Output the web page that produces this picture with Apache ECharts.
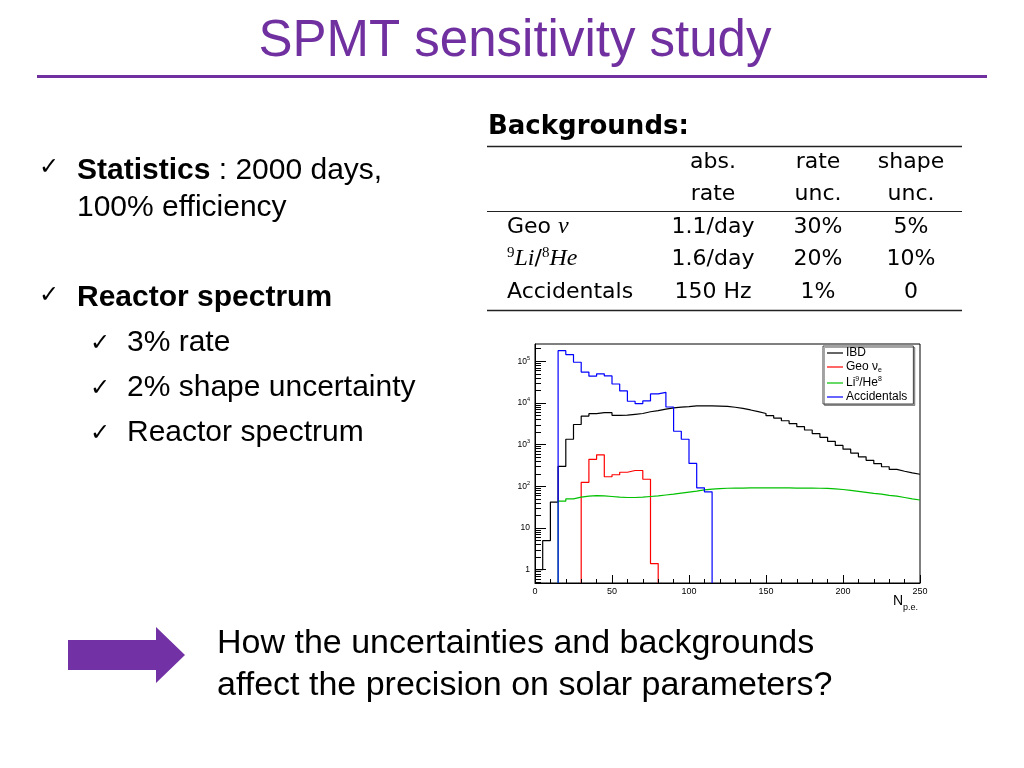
<!DOCTYPE html>
<html>
<head>
<meta charset="utf-8">
<script src="https://cdn.jsdelivr.net/npm/echarts@6/dist/echarts.min.js"></script>
<style>
html,body{margin:0;padding:0;background:#fff;}
#chart{width:1024px;height:768px;}
</style>
</head>
<body>
<div id="chart"></div>
<script>
// ---------- data ----------
const BIN_EDGES = [0,5,10,15,20,25,30,35,40,45,50,55,60,65,70,75,80,85,90,95,
  100,105,110,115,120,125,130,135,140,145,150,155,160,165,170,175,180,185,190,195,
  200,205,210,215,220,225,230,235,240,245];
const X_MAX = 250;
const IBD = [1,5,42,300,1350,3050,4850,5550,5900,5850,
  5050,5100,5350,5600,6150,6550,7150,7650,7950,8200,
  8500,8550,8550,8450,8300,7900,7400,6800,6200,5600,
  4950,4350,3750,3200,2700,2250,1850,1500,1200,960,
  780,630,510,420,350,295,255,230,210,195];
const GEO = [0,0,0,0,0,0,125,445,570,170,
  190,218,240,240,148,1.4,0,0,0,0,
  0,0,0,0,0,0,0,0,0,0,
  0,0,0,0,0,0,0,0,0,0,
  0,0,0,0,0,0,0,0,0,0];
const LIHE = [0,0,0,44,50,55,58,60,59,57,
  55,54,54,55,57,59,62,65,69,73,
  77,82,86,88,90,91,91,92,92,92,
  92,92,92,91,91,91,90,89,87,84,
  80,76,72,68,65,61,58,54,50,47];
const ACC = [0,0,0,180000,145000,95000,55000,44000,50000,44500,
  28500,19500,11000,9600,11200,16500,18000,8000,2100,1350,
  355,92,74,0,0,0,0,0,0,0,
  0,0,0,0,0,0,0,0,0,0,
  0,0,0,0,0,0,0,0,0,0];
const SERIES_NAMES = ['IBD','Geo','LiHe','Accidentals'];
const LEGEND_LABELS = {
  IBD: '{n|IBD}',
  Geo: '{n|Geo \u03bd}{sub|e}',
  LiHe: '{n|Li}{sup|9}{n|/He}{sup|8}',
  Accidentals: '{n|Accidentals}'
};
const X_TICK_INTERVAL = 50;
const Y_MIN = 0.48, Y_MAX = 2.6e5;
const Y_MAJOR = [1,10,100,1000,10000,100000];
const Y_MINOR = [];
for (let e = -1; e <= 5; e++) for (let k = 2; k <= 9; k++) {
  const v = k * Math.pow(10, e);
  if (v >= Y_MIN && v <= Y_MAX) Y_MINOR.push(v);
}
// table text
const TABLE_HEAD = [['abs.','rate'],['rate','unc.'],['shape','unc.']];
const TABLE_ROWS = [
  ['{s|Geo }{m|\u03bd}', '1.1/day', '30%', '5%'],
  ['{sup|9}{m|Li}{s|/}{sup|8}{m|He}', '1.6/day', '20%', '10%'],
  ['{s|Accidentals}', '150 Hz', '1%', '0']
];

// ---------- build ----------
// empty bins sit below the log-axis floor, so they are clipped like in the original
function toSteps(vals){
  const floor = Y_MIN / 2;
  const pts = vals.map((v,i)=>[BIN_EDGES[i], v > 0 ? v : floor]);
  const last = vals[vals.length-1];
  pts.push([X_MAX, last > 0 ? last : floor]);
  return pts;
}
const SANS = '"Liberation Sans", Arial, Helvetica, sans-serif';
const TEX = '"DejaVu Sans", sans-serif';
const PURPLE = '#7030A0';

function txt(text, x, y, font, fill, align, rich){
  const st = {text:text, x:x, y:y, font:font, fill:fill||'#000',
    align:align||'left', textAlign:align||'left', verticalAlign:'middle', textVerticalAlign:'middle'};
  if (rich) st.rich = rich;
  return {type:'text', z:100, style:st};
}

const graphics = [];
// title
graphics.push(txt('SPMT sensitivity study', 515, 42, '51px ' + SANS, PURPLE, 'center'));
graphics.push({type:'line', z:100, shape:{x1:37,y1:76.5,x2:987,y2:76.5}, style:{stroke:PURPLE, lineWidth:3}});
// bullets
const CHECK = '24px "DejaVu Sans", sans-serif';
graphics.push(txt('\u2713', 39, 168, CHECK, '#000'));
graphics.push(txt('{b|Statistics}{r| : 2000 days,}', 77, 171, '30px ' + SANS, '#000', 'left',
  {b:{fontWeight:'bold', fontSize:30, fontFamily:SANS, fill:'#000'}, r:{fontSize:30, fontFamily:SANS, fill:'#000'}}));
graphics.push(txt('100% efficiency', 77, 208, '30px ' + SANS));
graphics.push(txt('\u2713', 39, 296, CHECK, '#000'));
graphics.push(txt('Reactor spectrum', 77, 298, 'bold 30px ' + SANS));
const SUBS = ['3% rate','2% shape uncertainty','Reactor spectrum'];
SUBS.forEach((s,i)=>{
  graphics.push(txt('\u2713', 90, 344 + 45*i, CHECK, '#000'));
  graphics.push(txt(s, 127, 343 + 45*i, '30px ' + SANS));
});
// table
graphics.push(txt('Backgrounds:', 488, 127, 'bold 26px ' + TEX));
[146.5, 310.5].forEach(y=>graphics.push({type:'line', z:100, shape:{x1:487,y1:y,x2:962,y2:y}, style:{stroke:'#222', lineWidth:1.6}}));
graphics.push({type:'line', z:100, shape:{x1:487,y1:211.5,x2:962,y2:211.5}, style:{stroke:'#222', lineWidth:1.1}});
const COLX = [713, 818, 911];
TABLE_HEAD.forEach((h,i)=>{
  graphics.push(txt(h[0], COLX[i], 162, '22px ' + TEX, '#000', 'center'));
  graphics.push(txt(h[1], COLX[i], 194, '22px ' + TEX, '#000', 'center'));
});
const ROWY = [227, 259, 292];
const RICH_ROW = {
  s:{fontSize:22, fontFamily:TEX, fill:'#000', lineHeight:26},
  m:{fontSize:24, fontFamily:'"Liberation Serif", "DejaVu Serif", serif', fontStyle:'italic', fill:'#000', lineHeight:26},
  sup:{fontSize:15, fontFamily:'"Liberation Serif", serif', fill:'#000', lineHeight:13, verticalAlign:'top'}
};
TABLE_ROWS.forEach((r,j)=>{
  graphics.push(txt(r[0], 507, ROWY[j], '22px ' + TEX, '#000', 'left', RICH_ROW));
  for (let i=1;i<4;i++) graphics.push(txt(r[i], COLX[i-1], ROWY[j], '22px ' + TEX, '#000', 'center'));
});
// axis title N_p.e.
graphics.push(txt('{n|N}{s|p.e.}', 893, 603, '14px ' + SANS, '#000', 'left',
  {n:{fontSize:14, fontFamily:SANS, fill:'#000', lineHeight:18, verticalAlign:'top'},
   s:{fontSize:9, fontFamily:SANS, fill:'#000', lineHeight:9, verticalAlign:'bottom'}}));
// arrow
graphics.push({type:'polygon', z:100, shape:{points:[[68,640],[156,640],[156,627],[185,655],[156,683],[156,670],[68,670]]},
  style:{fill:'#7232a6'}});
// bottom text
graphics.push(txt('How the uncertainties and backgrounds', 217, 644, '34px ' + SANS));
graphics.push(txt('affect the precision on solar parameters?', 217, 686, '34px ' + SANS));

const COLORS = {IBD:'#000000', Geo:'#ff0000', LiHe:'#00c000', Accidentals:'#0000ff'};
const DATA = {IBD:IBD, Geo:GEO, LiHe:LIHE, Accidentals:ACC};

const chart = echarts.init(document.getElementById('chart'), null, {renderer:'canvas'});
chart.setOption({
  animation:false,
  backgroundColor:'#fff',
  grid:{left:535, top:344, width:385, height:239, show:true, borderColor:'#000', borderWidth:1, backgroundColor:'transparent'},
  legend:{
    data:SERIES_NAMES, orient:'vertical', left:823, top:346,
    icon:'rect', itemWidth:16, itemHeight:1.2, itemGap:2,
    padding:[1,6,1,4],
    backgroundColor:'#fff', borderColor:'#444', borderWidth:1,
    shadowColor:'rgba(0,0,0,0.35)', shadowOffsetX:1.5, shadowOffsetY:1.5, shadowBlur:0,
    formatter:name=>LEGEND_LABELS[name],
    textStyle:{fontFamily:SANS, fontSize:12, color:'#000', padding:[0,0,0,-2],
      rich:{n:{fontFamily:SANS, fontSize:12, lineHeight:14, color:'#000'},
            sup:{fontFamily:SANS, fontSize:7, lineHeight:8, verticalAlign:'top', color:'#000'},
            sub:{fontFamily:SANS, fontSize:7, lineHeight:8, verticalAlign:'bottom', color:'#000'}}}
  },
  xAxis:{type:'value', min:0, max:X_MAX, interval:X_TICK_INTERVAL, z:10,
    axisLine:{show:true, lineStyle:{color:'#000', width:1}},
    axisTick:{show:true, inside:true, length:8, lineStyle:{color:'#000', width:1}},
    minorTick:{show:true, splitNumber:5, length:4, lineStyle:{color:'#000', width:1}},
    splitLine:{show:false}, minorSplitLine:{show:false},
    axisLabel:{fontFamily:SANS, fontSize:9, color:'#000', margin:4}
  },
  yAxis:[
    {type:'log', logBase:10, min:Y_MIN, max:Y_MAX, z:10,
     axisLine:{show:true, lineStyle:{color:'#000', width:1}},
     axisTick:{show:true, inside:true, length:11, customValues:Y_MAJOR, lineStyle:{color:'#000', width:1}},
     splitLine:{show:false},
     axisLabel:{customValues:Y_MAJOR, margin:5, color:'#000',
       formatter:v=>{const e=Math.round(Math.log10(v)); if(e===0) return '{n|1}'; if(e===1) return '{n|10}'; return '{n|10}{s|'+e+'}';},
       rich:{n:{fontFamily:SANS, fontSize:8.5, lineHeight:12, color:'#000'},
             s:{fontFamily:SANS, fontSize:5.5, lineHeight:6, verticalAlign:'top', color:'#000'}}}
    },
    {type:'log', logBase:10, min:Y_MIN, max:Y_MAX, position:'left', offset:0, z:10,
     axisLine:{show:false},
     axisTick:{show:true, inside:true, length:6, customValues:Y_MINOR, lineStyle:{color:'#000', width:1}},
     axisLabel:{show:false}, splitLine:{show:false}
    }
  ],
  series:SERIES_NAMES.map(n=>({
    name:n, type:'line', step:'end', symbol:'none', showSymbol:false, clip:true,
    data:toSteps(DATA[n]), yAxisIndex:0,
    lineStyle:{color:COLORS[n], width:1.2}, itemStyle:{color:COLORS[n]},
    emphasis:{disabled:true}
  })),
  graphic:graphics
});
</script>
</body>
</html>
